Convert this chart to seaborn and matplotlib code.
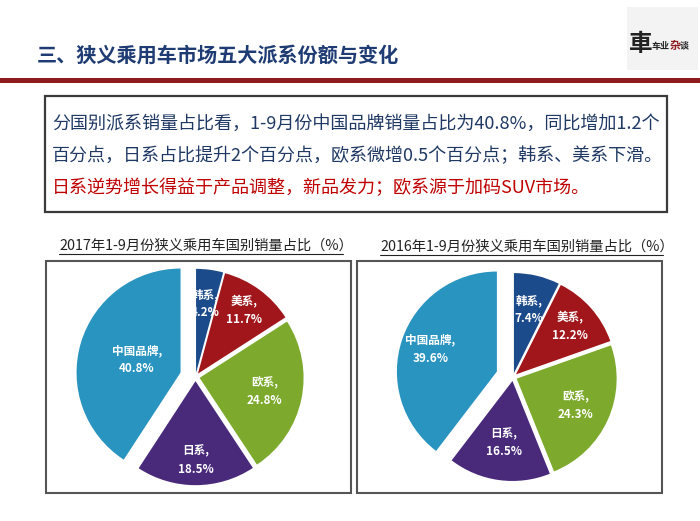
import matplotlib
matplotlib.use("Agg")
import numpy as np
import matplotlib.pyplot as plt
import seaborn as sns
from matplotlib.patches import Rectangle

sns.set_theme(style="white")
plt.rcParams['font.family'] = ['Noto Sans CJK SC', 'DejaVu Sans']

# 数据
categories = ['韩系', '美系', '欧系', '日系', '中国品牌']
share_2017 = [4.2, 11.7, 24.8, 18.5, 40.8]
share_2016 = [7.4, 12.2, 24.3, 16.5, 39.6]
colors = ['#1C4B8B', '#A0161B', '#7DAA2D', '#48297A', '#2A94C0']

page_title = '三、狭义乘用车市场五大派系份额与变化'
note_lines = [
    '分国别派系销量占比看，1-9月份中国品牌销量占比为40.8%，同比增加1.2个',
    '百分点，日系占比提升2个百分点，欧系微增0.5个百分点；韩系、美系下滑。',
    '日系逆势增长得益于产品调整，新品发力；欧系源于加码SUV市场。',
]
note_colors = ['#1F3864', '#1F3864', '#C00000']
pie_titles = ['2017年1-9月份狭义乘用车国别销量占比（%）',
              '2016年1-9月份狭义乘用车国别销量占比（%）']

W, H = 700, 521
fig = plt.figure(figsize=(W / 100, H / 100), dpi=100)
fig.patch.set_facecolor('white')

# 背景层，像素坐标
bg = fig.add_axes([0, 0, 1, 1])
bg.set_xlim(0, W)
bg.set_ylim(H, 0)
bg.axis('off')

bg.text(37, 55, page_title, fontsize=14.5, fontweight='bold', color='#1F3B73', va='center', ha='left')
bg.add_patch(Rectangle((0, 78), W, 5, color='#8E1B1E', lw=0))

# logo
bg.add_patch(Rectangle((627, 7), 71, 63, color='#F3F3F3', lw=0))
bg.text(641, 44, '車', fontsize=17, fontweight='bold', color='#222222', ha='center', va='center')
bg.text(652, 46, '车业', fontsize=6.5, fontweight='bold', color='#222222', ha='left', va='center')
bg.text(670, 46, '杂', fontsize=8, fontweight='bold', color='#8E1B1E', ha='left', va='center')
bg.text(680, 46, '谈', fontsize=6.5, fontweight='bold', color='#222222', ha='left', va='center')

# 文字框
bg.add_patch(Rectangle((45, 96), 622, 116, fill=False, ec='#3A3A3A', lw=1.6))
for i, (line, c) in enumerate(zip(note_lines, note_colors)):
    bg.text(52, 124 + 32 * i, line, fontsize=13, color=c, ha='left', va='center')

# 饼图框
bg.add_patch(Rectangle((46, 261), 305, 232, fill=False, ec='#555555', lw=1.5))
bg.add_patch(Rectangle((357, 261), 305, 232, fill=False, ec='#555555', lw=1.5))
bg.text(59, 246, pie_titles[0], fontsize=10.3, color='#222222', ha='left', va='center')
bg.plot([59, 343], [254, 254], color='#222222', lw=0.8)
bg.text(380, 247, pie_titles[1], fontsize=10.3, color='#222222', ha='left', va='center')
bg.plot([380, 663], [255, 255], color='#222222', lw=0.8)


def draw_pie(cx, cy, r_px, values, explode, label_r):
    half = 120
    ax = fig.add_axes([(cx - half) / W, (H - cy - half) / H, 2 * half / W, 2 * half / H])
    wedges, _ = ax.pie(values, colors=colors, startangle=90, counterclock=False,
                       explode=explode, radius=1.0, wedgeprops=dict(linewidth=0))
    for w, name, v, d in zip(wedges, categories, values, label_r):
        ang = np.deg2rad((w.theta1 + w.theta2) / 2)
        x0, y0 = w.center
        ax.text(x0 + d * np.cos(ang), y0 + d * np.sin(ang), f'{name},\n{v}%',
                color='white', fontsize=8.4, fontweight='bold', ha='center', va='center',
                linespacing=1.5)
    lim = half / r_px
    ax.set_xlim(-lim, lim)
    ax.set_ylim(-lim, lim)
    ax.set_aspect('equal')
    ax.axis('off')
    ax.patch.set_alpha(0)
    return ax


draw_pie(195.5, 377, 104, share_2017, [0.04, 0.04, 0.04, 0.04, 0.15],
         [0.67, 0.75, 0.64, 0.76, 0.44])
draw_pie(513, 377, 100, share_2016, [0.04, 0.04, 0.04, 0.04, 0.17],
         [0.65, 0.72, 0.65, 0.62, 0.70])

fig.savefig('out.png', dpi=100, facecolor='white')
